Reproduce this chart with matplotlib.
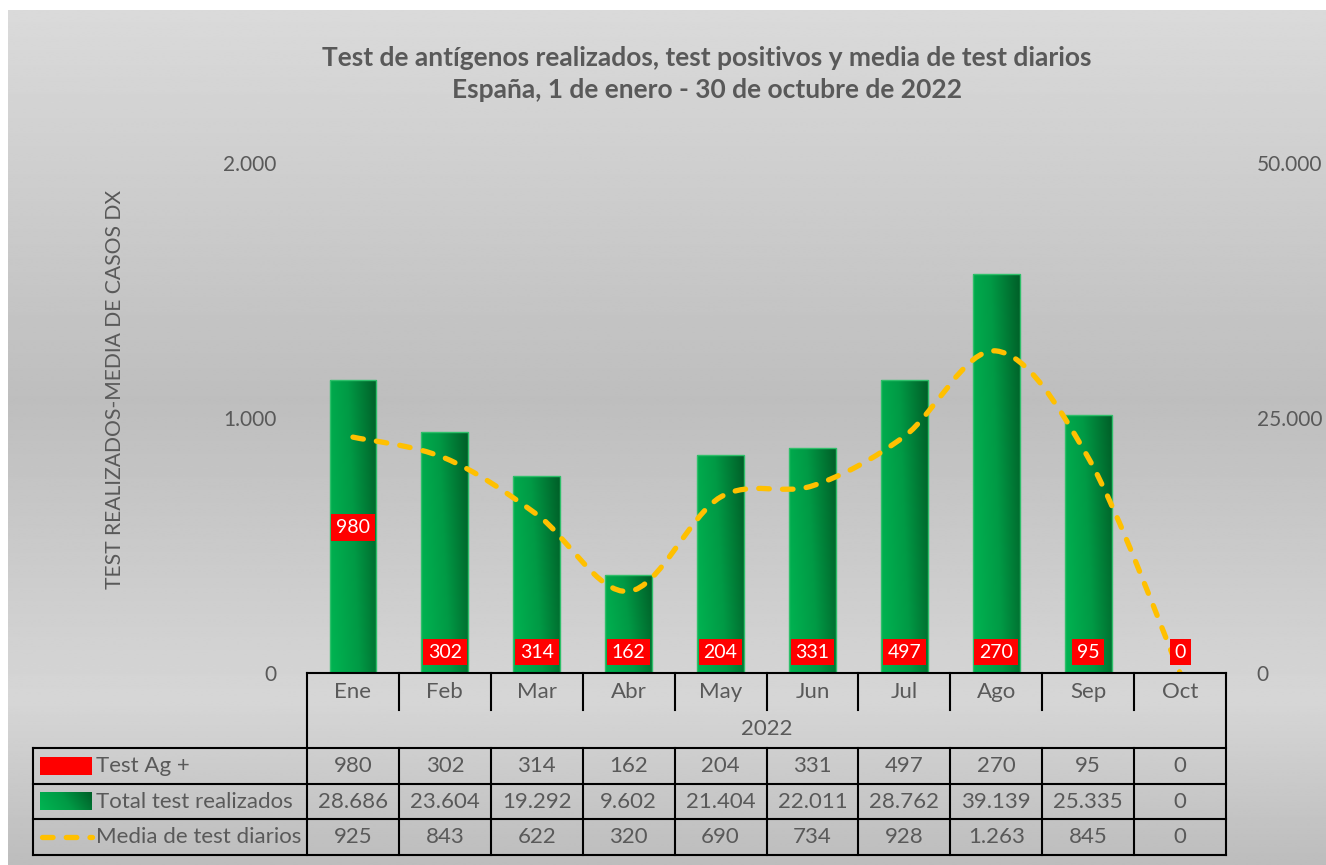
import numpy as np
import matplotlib.pyplot as plt
from matplotlib.path import Path
from matplotlib.patches import PathPatch, Rectangle
from matplotlib.colors import LinearSegmentedColormap

plt.rcParams['font.family'] = ['Lato', 'DejaVu Sans']

# datos (España 2022)
meses = ['Ene', 'Feb', 'Mar', 'Abr', 'May', 'Jun', 'Jul', 'Ago', 'Sep', 'Oct']
test_ag_pos = [980, 302, 314, 162, 204, 331, 497, 270, 95, 0]
total_tests = [28686, 23604, 19292, 9602, 21404, 22011, 28762, 39139, 25335, 0]
media_diaria = [925, 843, 622, 320, 690, 734, 928, 1263, 845, 0]
anio = '2022'
nombres = ['Test Ag +', 'Total test realizados', 'Media de test diarios']
titulo = ('Test de antígenos realizados, test positivos y media de test diarios\n'
          'España, 1 de enero - 30 de octubre de 2022')

GRIS = '#595959'
AMARILLO = '#ffc000'
ROJO = '#ff0000'
verde = LinearSegmentedColormap.from_list('verde', ['#00b552', '#009a45', '#005f28'])
FS = 16


def fmt(v):
    return f'{v:,}'.replace(',', '.')


W, H = 1326, 865
fig = plt.figure(figsize=(W / 100, H / 100), dpi=100)
fig.patch.set_facecolor('white')

# fondo degradado en pixeles
bg = fig.add_axes([0, 0, 1, 1], zorder=0)
bg.set_xlim(0, W)
bg.set_ylim(H, 0)
bg.axis('off')
yy = np.linspace(10, H, 400)
grad = np.interp(yy, [10, 400, 700, H], [0.855, 0.745, 0.84, 0.74])
bg.imshow(np.repeat(grad[:, None], 2, axis=1), cmap='gray', vmin=0, vmax=1,
          extent=[8, W, H, 10], aspect='auto', interpolation='bilinear')

# area de grafico
L, R, Y0, Y1 = 307, 1226, 673, 163
ax = fig.add_axes([L / W, 1 - Y0 / H, (R - L) / W, (Y0 - Y1) / H], zorder=1)
ax.patch.set_alpha(0)
ax2 = ax.twinx()
ax2.patch.set_alpha(0)

x = np.arange(len(meses))
ancho = 0.51

# barras (eje derecho)
ax.bar(x, test_ag_pos, width=ancho, color=ROJO, zorder=1)
barras = ax.bar(x, total_tests, width=ancho, color='none',
                edgecolor='#2fbf6a', linewidth=1, zorder=3)
gx, gy = np.meshgrid(np.linspace(0, 1, 64), np.linspace(0, 1, 64))
gimg = 0.8 * gx + 0.2 * gy
for b in barras:
    if b.get_height() <= 0:
        continue
    x0, w, h = b.get_x(), b.get_width(), b.get_height()
    im = ax.imshow(gimg, cmap=verde, extent=[x0, x0 + w, 0, h], origin='lower',
                   aspect='auto', zorder=2, interpolation='bilinear')
    im.set_clip_path(b)
ax.set_xlim(-0.5, len(meses) - 0.5)
ax.set_ylim(0, 50000)

# linea suavizada (eje izquierdo)
pts = np.column_stack([x, media_diaria]).astype(float)
verts = [pts[0]]
codes = [Path.MOVETO]
n = len(pts)
for i in range(n - 1):
    p0 = pts[max(i - 1, 0)]
    p1 = pts[i]
    p2 = pts[i + 1]
    p3 = pts[min(i + 2, n - 1)]
    verts += [p1 + (p2 - p0) / 6, p2 - (p3 - p1) / 6, p2]
    codes += [Path.CURVE4] * 3
linea = PathPatch(Path(verts, codes), fill=False, edgecolor=AMARILLO,
                  linewidth=3.8, linestyle=(0, (2.0, 2.5)), zorder=4)
linea.set_capstyle('round')
ax2.add_patch(linea)
ax2.set_ylim(0, 2000)

# etiquetas rojas
etiq_y = [572] + [82] * (len(meses) - 1)
for xi, v, ey in zip(x, test_ag_pos, etiq_y):
    ax2.text(xi, ey, str(v), ha='center', va='center', color='white', fontsize=14,
             zorder=6, bbox=dict(boxstyle='square,pad=0.25', fc=ROJO, ec='none'))

# ejes
for a in (ax, ax2):
    for s in a.spines.values():
        s.set_visible(False)
    a.set_xticks([])
ax.set_yticks([0, 25000, 50000])
ax.set_yticklabels([fmt(v) for v in [0, 25000, 50000]])
ax2.set_yticks([0, 1000, 2000])
ax2.set_yticklabels([fmt(v) for v in [0, 1000, 2000]])
ax.yaxis.tick_right()
ax2.yaxis.tick_left()
for a in (ax, ax2):
    a.tick_params(axis='y', length=0, pad=22, labelsize=15, labelcolor=GRIS)

fig.text(115 / W, 1 - 389 / H, 'TEST REALIZADOS-MEDIA DE CASOS DX', rotation=90,
         ha='center', va='center', fontsize=15.2, color=GRIS)
fig.text(707 / W, 1 - 74 / H, titulo, ha='center', va='center', fontsize=19,
         fontweight='bold', color=GRIS, linespacing=1.45)

# tabla de datos
top = fig.add_axes([0, 0, 1, 1], zorder=5)
top.set_xlim(0, W)
top.set_ylim(H, 0)
top.axis('off')
cw = (R - L) / len(meses)
filas = [748, 784, 819, 855]
TL = 33
kw = dict(color='black', lw=1.5, solid_capstyle='projecting')
top.plot([L, R], [Y0, Y0], **kw)
top.plot([L, L], [Y0, filas[-1]], **kw)
top.plot([R, R], [Y0, filas[-1]], **kw)
top.plot([TL, TL], [filas[0], filas[-1]], **kw)
for fy in filas:
    top.plot([TL, R], [fy, fy], **kw)
for i in range(1, len(meses)):
    xc = L + i * cw
    top.plot([xc, xc], [Y0, 710], **kw)
    top.plot([xc, xc], [filas[0], filas[-1]], **kw)
for i, m in enumerate(meses):
    top.text(L + (i + 0.5) * cw, 692, m, ha='center', va='center', fontsize=FS, color=GRIS)
top.text((L + R) / 2, 729, anio, ha='center', va='center', fontsize=FS, color=GRIS)

series = [test_ag_pos, total_tests, media_diaria]
for r, (nom, vals) in enumerate(zip(nombres, series)):
    yc = (filas[r] + filas[r + 1]) / 2
    top.text(96, yc, nom, ha='left', va='center', fontsize=FS, color=GRIS)
    for i, v in enumerate(vals):
        top.text(L + (i + 0.5) * cw, yc, fmt(v), ha='center', va='center',
                 fontsize=FS, color=GRIS)

# claves de leyenda
yc0 = (filas[0] + filas[1]) / 2
top.add_patch(Rectangle((40, yc0 - 9), 52, 18, fc=ROJO, ec='none'))
yc1 = (filas[1] + filas[2]) / 2
key = top.imshow(gimg, cmap=verde, extent=[40, 92, yc1 + 9, yc1 - 9],
                 aspect='auto', interpolation='bilinear', origin='lower')
yc2 = (filas[2] + filas[3]) / 2
ln, = top.plot([42, 92], [yc2, yc2], color=AMARILLO, lw=3.8, linestyle=(0, (2.0, 2.5)))
ln.set_dash_capstyle('round')
top.set_xlim(0, W)
top.set_ylim(H, 0)

fig.savefig('out.png', dpi=100)
